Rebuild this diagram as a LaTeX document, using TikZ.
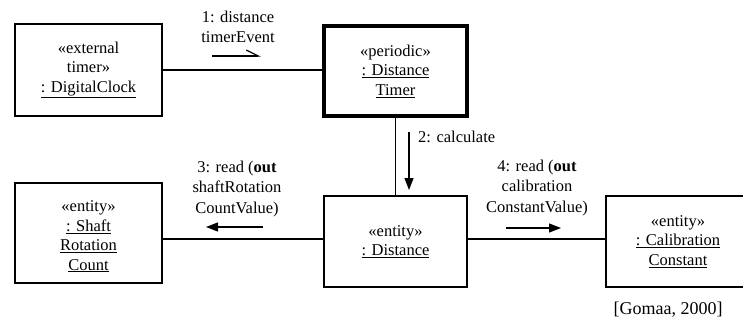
\documentclass[tikz,border=0pt]{standalone}
\usepackage{fontspec}
\setmainfont{Liberation Serif}
\usetikzlibrary{arrows.meta}
\newcommand\myul[1]{\underline{#1}}
\begin{document}
\begin{tikzpicture}[x=1pt,y=-1pt,
  obj/.style={draw, rectangle, line width=1.3pt, inner sep=0pt, align=center,
    font=\fontsize{16.5}{19.5}\selectfont},
  objtext/.style={inner sep=0pt, align=center, font=\fontsize{16.5}{19.5}\selectfont},
  lbl/.style={align=center, inner sep=0pt, font=\fontsize{16.5}{20.5}\selectfont},
  link/.style={line width=1.3pt},
  msg/.style={line width=1.3pt, -{Triangle[length=12pt,width=9pt]}},
  amsg/.style={line width=1.3pt, -{Straight Barb[left,length=12pt,width=12pt]}}]
\useasboundingbox (0,0) rectangle (743,323);
\clip (0,0) rectangle (743,323);
\node[obj, minimum width=147pt, minimum height=92pt] (clock) at (88.5,70)
  {«external\\timer»\\\myul{: DigitalClock}};
\node[obj, line width=3.6pt, minimum width=143pt, minimum height=90pt] (timer) at (395.5,71)
  {«periodic»\\\myul{: Distance}\\\myul{Timer}};
\node[obj, minimum width=143pt, minimum height=91pt] (dist) at (395.5,241.5)
  {«entity»\\\myul{: Distance}};
\node[obj, minimum width=147pt, minimum height=100pt] (shaft) at (88.5,233) {};
\node[objtext] (shafttext) at (88.5,236.5)
  {«entity»\\\myul{: Shaft}\\\myul{Rotation}\\\myul{Count}};
\node[obj, minimum width=144pt, minimum height=91pt] (calib) at (678,241.5)
  {«entity»\\\myul{: Calibration}\\\myul{Constant}};
% connectors
\draw[link] (clock.east) -- (clock.east -| timer.west);
\draw[link] (timer.south) -- (dist.north);
\draw[link] ([yshift=2.5pt]dist.west) -- ([yshift=2.5pt]dist.west -| shaft.east);
\draw[link] ([yshift=2.5pt]dist.east) -- ([yshift=2.5pt]dist.east -| calib.west);
% messages
\coordinate (m1a) at (212,56); \coordinate (m1b) at (261,56);
\draw[amsg] (m1a) -- (m1b);
\node[lbl] (l1) at (238,27) {1: distance\\timerEvent};
\coordinate (m2a) at (409,132); \coordinate (m2b) at (409,190);
\draw[msg] (m2a) -- (m2b);
\node[lbl, anchor=west] (l2) at (418,137) {2: calculate};
\coordinate (m3a) at (263,227); \coordinate (m3b) at (206,227);
\draw[msg] (m3a) -- (m3b);
\node[lbl] (l3) at (237,189) {3: read (\textbf{out}\\shaftRotation\\CountValue)};
\coordinate (m4a) at (506,228); \coordinate (m4b) at (561,228);
\draw[msg] (m4a) -- (m4b);
\node[lbl] (l4) at (537,188) {4: read (\textbf{out}\\calibration\\ConstantValue)};
\node[lbl, font=\fontsize{18}{20}\selectfont] (src) at (668,310) {[Gomaa, 2000]};
\end{tikzpicture}
\end{document}
